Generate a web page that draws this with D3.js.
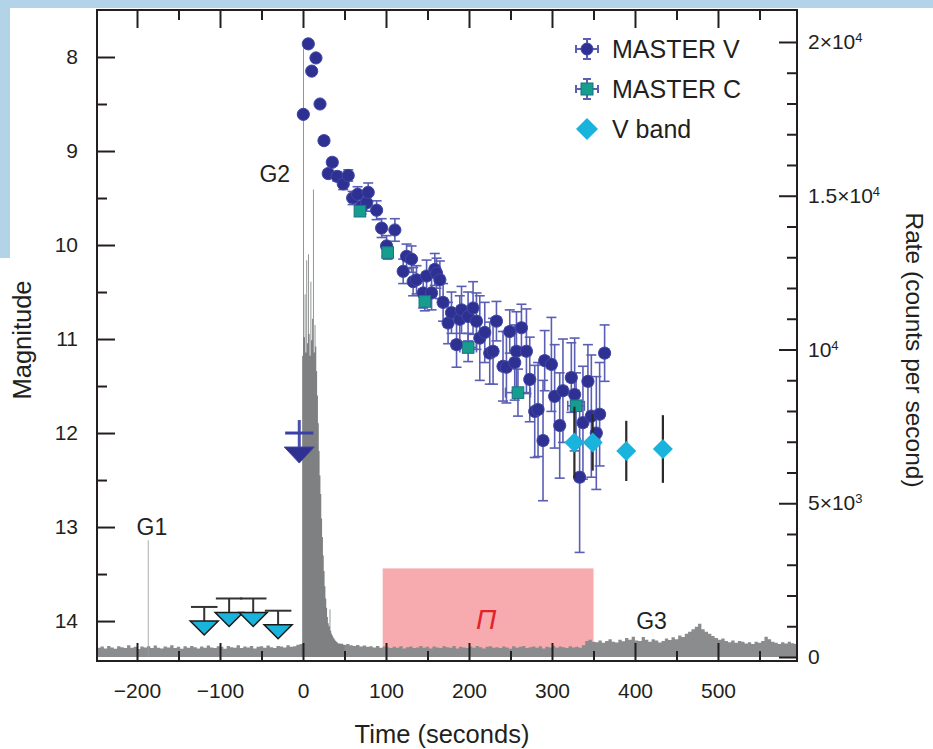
<!DOCTYPE html>
<html><head><meta charset="utf-8">
<script src="https://cdn.jsdelivr.net/npm/d3@7"></script>
<style>
body{margin:0;background:#fff;}
svg{display:block;font-family:"Liberation Sans",Arial,Helvetica,sans-serif;}
</style>
</head><body>
<svg id="c" width="933" height="749"></svg>
<script>
// ---------------- DATA ----------------
const xTicks = [-200, -100, 0, 100, 200, 300, 400, 500];
const xMinorTicks = [-150, -50, 50, 150, 250, 350, 450, 550];
const magTicks = [8, 9, 10, 11, 12, 13, 14];
const magMinorTicks = [8.5, 9.5, 10.5, 11.5, 12.5, 13.5];
const rateTicks = [0, 5000, 10000, 15000, 20000];
const rateTickBase = ["0", "5×10", "10", "1.5×10", "2×10"];
const rateTickExp = ["", "3", "4", "4", "4"];
const rateMinorTicks = [1000,2000,3000,4000,6000,7000,8000,9000,11000,12000,13000,14000,16000,17000,18000,19000];

// MASTER V detections: time (s), magnitude, mag error, time half-width
const masterVTime = [0.4,6.4,10.5,15.6,20.5,25.3,30.4,35.3,41.3,48.5,54.5,59.8,65.8,70.6,76.7,78.6,88.7,94.7,100.7,110.7,
  120.7,124.8,130.8,132.7,136.8,144.8,148.9,154.9,158.8,160.9,164.9,168.8,174.8,178.9,185.0,188.9,191.0,198.9,204.9,209.0,
  213.0,219.0,225.0,229.0,233.1,241.0,245.1,249.1,255.1,257.2,263.2,269.2,273.2,279.2,283.2,289.2,291.2,299.3,303.2,309.3,
  313.2,323.3,327.3,333.3,337.3,343.3,347.4,353.4,357.4,363.4];
const masterVMag = [8.61,7.86,8.15,8.01,8.50,8.89,9.24,9.12,9.27,9.35,9.26,9.50,9.46,9.59,9.55,9.44,9.63,9.82,10.01,9.84,
  10.28,10.12,10.15,10.39,10.37,10.51,10.33,10.51,10.26,10.30,10.37,10.61,10.83,10.72,11.06,10.79,10.69,10.76,10.67,10.81,
  10.99,10.93,11.15,11.13,10.81,11.29,11.30,10.92,11.25,11.13,10.88,11.13,11.43,11.77,11.75,12.08,11.23,11.27,11.61,11.92,
  11.55,11.41,11.59,12.47,11.89,11.45,11.82,12.00,11.80,11.15];
const masterVErr = [0.03,0.03,0.03,0.03,0.03,0.04,0.04,0.04,0.05,0.06,0.06,0.07,0.08,0.08,0.09,0.10,0.10,0.10,0.11,0.12,
  0.13,0.13,0.14,0.15,0.15,0.16,0.17,0.18,0.17,0.16,0.20,0.20,0.22,0.22,0.24,0.25,0.25,0.26,0.28,0.30,
  0.45,0.32,0.33,0.35,0.21,0.37,0.38,0.23,0.40,0.42,0.25,0.45,0.45,0.49,0.50,0.64,0.32,0.50,0.55,0.56,
  0.55,0.37,0.60,0.80,0.60,0.39,0.65,0.60,0.55,0.30];
const masterVTErr = [2,2,2,2,2,2,2,2,3,3,3,3,3,3,3,3,4,4,4,4,
  4,4,4,4,4,5,5,5,5,5,5,5,5,5,5,5,5,5,5,5,
  5,5,5,5,5,5,5,5,5,5,5,5,5,5,5,5,5,5,5,5,
  5,5,5,5,5,5,5,5,5,5];

// MASTER C detections
const masterCTime = [68.6, 102, 146.8, 199, 259, 329];
const masterCMag = [9.64, 10.08, 10.60, 11.09, 11.57, 11.71];
const masterCErr = [0.05, 0.07, 0.10, 0.15, 0.25, 0.35];
const masterCTErr = [4, 5, 6, 10, 15, 10];

// V band detections
const vBandTime = [327, 349, 389.5, 433.6];
const vBandMag = [12.10, 12.10, 12.19, 12.17];
const vBandErr = [0.38, 0.30, 0.32, 0.36];

// V band upper limits (pre-burst)
const vLimitTime = [-119, -89, -60, -30];
const vLimitMag = [13.85, 13.76, 13.76, 13.89];
const vLimitTErr = [16, 16, 16, 16];

// MASTER V upper limit at trigger
const mvLimitTime = [-4.5];
const mvLimitMag = [12.0];
const mvLimitTErr = [17];

// Polarization window
const polStart = 96, polEnd = 350, polTopMag = 13.44;

// Gamma-ray count rate: background in 4-s bins starting at -248 s
const bgStart = -248, bgBin = 4;
const bgRate = [300,340,280,360,310,270,350,320,290,380,
  300,330,260,340,310,350,290,370,300,280,
  340,310,380,290,330,270,350,300,360,320,
  280,340,300,370,310,290,350,330,270,360,
  320,300,380,290,340,310,360,280,330,350,
  300,370,320,290,360,340,310,380,330,350,
  400,420,450,430,410,440,420,460,430,410,
  440,420,400,430,390,420,380,360,390,340,
  370,330,350,310,360,300,340,320,290,330,
  300,350,280,320,340,290,310,360,300,330,
  280,340,310,290,350,320,300,360,280,330,
  310,290,340,300,360,320,280,330,350,300,
  320,290,340,310,270,350,300,330,360,290,
  320,340,300,350,280,330,310,360,300,340,
  320,290,350,310,330,300,380,520,560,500,
  480,540,460,520,580,500,470,560,510,620,
  560,660,540,520,650,560,500,580,540,470,
  520,600,550,640,580,700,650,760,820,900,
  980,1080,900,820,760,680,620,560,600,520,
  480,540,460,520,500,440,480,420,500,460,
  520,660,580,500,460,420,480,440,500,450,420,470];
// Main burst (G2) in 1-s bins starting at -2 s
const burstStart = -2, burstBin = 1;
const burstRate = [420,9800,19800,10400,11800,9900,12900,10200,13100,10500,
  9800,12200,10300,11000,15200,9900,10800,10100,9300,8500,
  7600,6700,5900,5300,4500,3900,3300,2800,2300,1900,
  1600,1300,1100,1000,1550,850,760,700,640,600,
  560,520,500,470,450,430,440,420,410,430,400,410];
// Precursor G1 spike (1-s bin)
const g1Start = -187, g1Bin = 1;
const g1Rate = [3800];

const episodeLabels = ["G1", "G2", "G3"];
const episodeTime = [-182, -34, 420];
const episodeMag = [13.0, 9.24, 14.0];

// ---------------- LAYOUT ----------------
const W = 933, H = 749;
const L = 97, R = 797, T = 10, B = 661;
const ink = "#231f20";
const svg = d3.select("#c");

svg.append("rect").attr("width", W).attr("height", H).attr("fill", "#fff");
svg.append("rect").attr("x", 0).attr("y", 0).attr("width", W).attr("height", 8).attr("fill", "#b3d4e8");
svg.append("rect").attr("x", 0).attr("y", 0).attr("width", 10).attr("height", 258).attr("fill", "#b3d4e8");

const x = d3.scaleLinear().domain([-248.2, 595.2]).range([L, R]);
const y = d3.scaleLinear().domain([7.5, 14.425]).range([T, B]);
const yr = d3.scaleLinear().domain([-130, 21040]).range([B, T]);

svg.append("defs").append("clipPath").attr("id", "plotclip")
  .append("rect").attr("x", L).attr("y", T).attr("width", R - L).attr("height", B - T);
const plot = svg.append("g").attr("clip-path", "url(#plotclip)");

// polarization window
plot.append("rect")
  .attr("x", x(polStart)).attr("width", x(polEnd) - x(polStart))
  .attr("y", y(polTopMag)).attr("height", yr(0) - y(polTopMag))
  .attr("fill", "#f7abaf");
plot.append("text").attr("x", x((polStart + polEnd) / 2) - 2).attr("y", y(13.98))
  .attr("text-anchor", "middle").attr("dy", "0.35em")
  .attr("font-size", 28).attr("font-style", "italic").attr("fill", "#e3232c").text("Π");

// histograms
function bins(start, w, vals) {
  const pts = vals.map((v, i) => [start + i * w, v]);
  pts.push([start + vals.length * w, vals[vals.length - 1]]);
  return pts;
}
const area = d3.area().curve(d3.curveStepAfter)
  .x(d => x(d[0])).y0(yr(0)).y1(d => yr(d[1]));
plot.append("path").datum(bins(bgStart, bgBin, bgRate)).attr("d", area).attr("fill", "#8a8c8d");
plot.append("path").datum(bins(g1Start, g1Bin, g1Rate)).attr("d", area).attr("fill", "#9a9c9d");
plot.append("path").datum(bins(burstStart, burstBin, burstRate)).attr("d", area).attr("fill", "#7e8081");

// episode labels
svg.selectAll("text.ep").data(episodeLabels).join("text").attr("class", "ep")
  .attr("x", (d, i) => x(episodeTime[i])).attr("y", (d, i) => y(episodeMag[i]))
  .attr("text-anchor", "middle").attr("dy", "0.35em").attr("font-size", 23).attr("fill", ink).text(d => d);

// ---------------- AXES ----------------
const maj = 18, mnr = 10;
function styleAxis(g) {
  g.select(".domain").remove();
  g.selectAll(".tick line").attr("stroke", ink).attr("stroke-width", 2);
  g.selectAll(".tick text").attr("fill", ink).attr("font-size", 21).attr("font-family", "Liberation Sans, Arial, sans-serif");
}
const fmtX = d => d < 0 ? "\u2212" + Math.abs(d) : String(d);
svg.append("g").attr("transform", `translate(0,${B})`)
  .call(d3.axisBottom(x).tickValues(xMinorTicks).tickSize(-mnr).tickFormat("")).call(styleAxis);
svg.append("g").attr("transform", `translate(0,${B})`)
  .call(d3.axisBottom(x).tickValues(xTicks).tickSize(-maj).tickPadding(22).tickFormat(fmtX)).call(styleAxis);
svg.append("g").attr("transform", `translate(0,${T})`)
  .call(d3.axisTop(x).tickValues(xMinorTicks).tickSize(-mnr).tickFormat("")).call(styleAxis);
svg.append("g").attr("transform", `translate(0,${T})`)
  .call(d3.axisTop(x).tickValues(xTicks).tickSize(-maj).tickFormat("")).call(styleAxis);
svg.append("g").attr("transform", `translate(${L},0)`)
  .call(d3.axisLeft(y).tickValues(magMinorTicks).tickSize(-mnr).tickFormat("")).call(styleAxis);
svg.append("g").attr("transform", `translate(${L},0)`)
  .call(d3.axisLeft(y).tickValues(magTicks).tickSize(-maj).tickPadding(19).tickFormat(d3.format("d"))).call(styleAxis);
svg.append("g").attr("transform", `translate(${R},0)`)
  .call(d3.axisRight(yr).tickValues(rateMinorTicks).tickSize(-mnr).tickFormat("")).call(styleAxis);
const ra = svg.append("g").attr("transform", `translate(${R},0)`)
  .call(d3.axisRight(yr).tickValues(rateTicks).tickSize(-maj).tickPadding(11).tickFormat("")).call(styleAxis);
ra.selectAll(".tick text").each(function(d, i) {
  const t = d3.select(this);
  t.text(null);
  t.append("tspan").text(rateTickBase[i]);
  if (rateTickExp[i]) t.append("tspan").attr("dy", "-0.55em").attr("font-size", "0.62em").text(rateTickExp[i]);
});
svg.append("rect").attr("x", L).attr("y", T).attr("width", R - L).attr("height", B - T)
  .attr("fill", "none").attr("stroke", ink).attr("stroke-width", 2);

// titles
svg.append("text").attr("transform", "translate(22,340) rotate(-90)").attr("text-anchor", "middle")
  .attr("dy", "0.35em").attr("font-size", 25.5).attr("fill", ink).text("Magnitude");
svg.append("text").attr("transform", "translate(915,350) rotate(90)").attr("text-anchor", "middle")
  .attr("dy", "0.35em").attr("font-size", 24.5).attr("fill", ink).text("Rate (counts per second)");
svg.append("text").attr("x", 442).attr("y", 734).attr("text-anchor", "middle")
  .attr("dy", "0.35em").attr("font-size", 25.5).attr("fill", ink).text("Time (seconds)");

// ---------------- POINTS ----------------
const pts = svg.append("g");
function errorBars(g, ts, ms, es, tes, color, sw, cap) {
  ts.forEach((t, i) => {
    const cx = x(t), cy = y(ms[i]);
    if (es && es[i] > 0) {
      const y1 = y(ms[i] - es[i]), y2 = y(ms[i] + es[i]);
      g.append("line").attr("x1", cx).attr("x2", cx).attr("y1", y1).attr("y2", y2).attr("stroke", color).attr("stroke-width", sw);
      if (cap > 0) [y1, y2].forEach(yy => g.append("line").attr("x1", cx - cap).attr("x2", cx + cap)
        .attr("y1", yy).attr("y2", yy).attr("stroke", color).attr("stroke-width", sw));
    }
    if (tes && tes[i] > 0) {
      const x1 = x(t - tes[i]), x2 = x(t + tes[i]);
      g.append("line").attr("x1", x1).attr("x2", x2).attr("y1", cy).attr("y2", cy).attr("stroke", color).attr("stroke-width", sw);
      if (cap > 0) [x1, x2].forEach(xx => g.append("line").attr("x1", xx).attr("x2", xx)
        .attr("y1", cy - cap).attr("y2", cy + cap).attr("stroke", color).attr("stroke-width", sw));
    }
  });
}
const mvFill = "#2e3192", mvStroke = "#4046a6", mvBar = "#5a5fb4";
const mcFill = "#159e8d", vbFill = "#1ab3dc";

// pre-burst V-band upper limits
vLimitTime.forEach((t, i) => {
  const cx = x(t), cy = y(vLimitMag[i]);
  pts.append("line").attr("x1", x(t - vLimitTErr[i])).attr("x2", x(t + vLimitTErr[i])).attr("y1", cy).attr("y2", cy)
    .attr("stroke", "#333").attr("stroke-width", 2);
  pts.append("line").attr("x1", cx).attr("x2", cx).attr("y1", cy).attr("y2", cy + 14).attr("stroke", "#333").attr("stroke-width", 2);
  pts.append("path").attr("d", `M${cx - 14},${cy + 14}L${cx + 14},${cy + 14}L${cx},${cy + 28}Z`)
    .attr("fill", vbFill).attr("stroke", "#1a1a1a").attr("stroke-width", 1.5);
});
// MASTER V upper limit at trigger
mvLimitTime.forEach((t, i) => {
  const cx = x(t), cy = y(mvLimitMag[i]);
  pts.append("line").attr("x1", cx).attr("x2", cx).attr("y1", cy - 13).attr("y2", cy + 14).attr("stroke", "#4a50b0").attr("stroke-width", 3);
  pts.append("line").attr("x1", x(t - mvLimitTErr[i])).attr("x2", x(t + mvLimitTErr[i])).attr("y1", cy).attr("y2", cy)
    .attr("stroke", "#3a40a8").attr("stroke-width", 3);
  pts.append("path").attr("d", `M${cx - 15},${cy + 14}L${cx + 15},${cy + 14}L${cx},${cy + 30}Z`)
    .attr("fill", mvFill).attr("stroke", mvStroke).attr("stroke-width", 1);
});

// MASTER V
errorBars(pts, masterVTime, masterVMag, masterVErr, masterVTErr, mvBar, 1.6, 5);
// MASTER C bars
errorBars(pts, masterCTime, masterCMag, masterCErr, masterCTErr, mvBar, 1.6, 5);
pts.selectAll("circle.mv").data(masterVTime).join("circle").attr("class", "mv")
  .attr("cx", d => x(d)).attr("cy", (d, i) => y(masterVMag[i])).attr("r", 6.1)
  .attr("fill", mvFill).attr("stroke", mvStroke).attr("stroke-width", 1);
pts.selectAll("rect.mc").data(masterCTime).join("rect").attr("class", "mc")
  .attr("x", d => x(d) - 5.8).attr("y", (d, i) => y(masterCMag[i]) - 5.8).attr("width", 11.6).attr("height", 11.6)
  .attr("fill", mcFill).attr("stroke", "#1d6f86").attr("stroke-width", 1);
// V band
errorBars(pts, vBandTime, vBandMag, vBandErr, null, "#2a2a2a", 2.2, 0);
pts.selectAll("path.vb").data(vBandTime).join("path").attr("class", "vb")
  .attr("d", (d, i) => { const cx = x(d), cy = y(vBandMag[i]), s = 10; return `M${cx},${cy - s}L${cx + s},${cy}L${cx},${cy + s}L${cx - s},${cy}Z`; })
  .attr("fill", vbFill);

// ---------------- LEGEND ----------------
const lg = svg.append("g");
const legX = 587, legTextX = 612, legY = [49, 89, 129];
const legLabels = ["MASTER V", "MASTER C", "V band"];
[0, 1].forEach(k => {
  const cy = legY[k];
  lg.append("line").attr("x1", legX).attr("x2", legX).attr("y1", cy - 10).attr("y2", cy + 10).attr("stroke", mvBar).attr("stroke-width", 2);
  lg.append("line").attr("x1", legX - 11).attr("x2", legX + 11).attr("y1", cy).attr("y2", cy).attr("stroke", mvBar).attr("stroke-width", 2);
  [[legX - 4, cy - 10, legX + 4, cy - 10], [legX - 4, cy + 10, legX + 4, cy + 10],
   [legX - 11, cy - 4, legX - 11, cy + 4], [legX + 11, cy - 4, legX + 11, cy + 4]].forEach(c =>
    lg.append("line").attr("x1", c[0]).attr("y1", c[1]).attr("x2", c[2]).attr("y2", c[3]).attr("stroke", mvBar).attr("stroke-width", 2));
});
lg.append("circle").attr("cx", legX).attr("cy", legY[0]).attr("r", 6).attr("fill", mvFill).attr("stroke", mvStroke);
lg.append("rect").attr("x", legX - 6).attr("y", legY[1] - 6).attr("width", 12).attr("height", 12).attr("fill", mcFill).attr("stroke", "#1d6f86");
lg.append("path").attr("d", `M${legX},${legY[2] - 11}L${legX + 11},${legY[2]}L${legX},${legY[2] + 11}L${legX - 11},${legY[2]}Z`).attr("fill", vbFill);
lg.selectAll("text").data(legLabels).join("text").attr("x", legTextX).attr("y", (d, i) => legY[i])
  .attr("dy", "0.35em").attr("font-size", 25).attr("fill", ink).text(d => d);
</script>
</body></html>
